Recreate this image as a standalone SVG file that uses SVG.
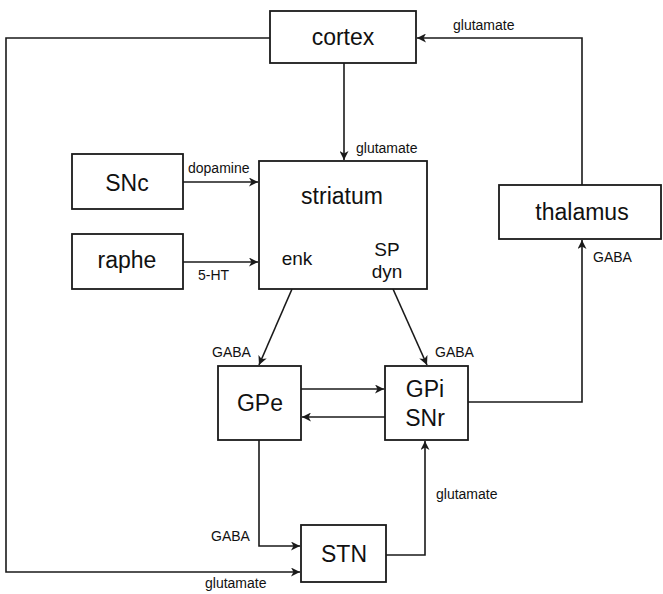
<svg xmlns="http://www.w3.org/2000/svg" width="663" height="594" viewBox="0 0 663 594">
<style>
.box{fill:#fff;stroke:#1a1a1a;stroke-width:1.8}
.n{font-family:"Liberation Sans",Arial,sans-serif;font-size:23px;fill:#111;text-anchor:middle}
.s{font-family:"Liberation Sans",Arial,sans-serif;font-size:19px;fill:#111;text-anchor:middle}
.l{font-family:"Liberation Sans",Arial,sans-serif;font-size:14px;fill:#111}
.c{fill:none;stroke:#1a1a1a;stroke-width:1.6}
</style>
<defs>
<marker id="a" markerUnits="userSpaceOnUse" markerWidth="10" markerHeight="9" refX="9" refY="4.5" orient="auto">
<path d="M0,0 L9,4.5 L0,9 L2.5,4.5 z" fill="#1a1a1a"/>
</marker>
</defs>
<g id="connectors">
<polyline class="c" points="270,38 6,38 6,572 300,572" marker-end="url(#a)"/>
<polyline class="c" points="582,185 582,38 417,38" marker-end="url(#a)"/>
<line class="c" x1="344" y1="63" x2="344" y2="160" marker-end="url(#a)"/>
<line class="c" x1="183" y1="182" x2="258" y2="182" marker-end="url(#a)"/>
<line class="c" x1="183" y1="262" x2="258" y2="262" marker-end="url(#a)"/>
<line class="c" x1="292" y1="289" x2="259" y2="365" marker-end="url(#a)"/>
<line class="c" x1="393" y1="289" x2="427" y2="365" marker-end="url(#a)"/>
<line class="c" x1="301" y1="389" x2="384" y2="389" marker-end="url(#a)"/>
<line class="c" x1="385" y1="417" x2="302" y2="417" marker-end="url(#a)"/>
<polyline class="c" points="468,402 582,402 582,240" marker-end="url(#a)"/>
<polyline class="c" points="259,440 259,546 300,546" marker-end="url(#a)"/>
<polyline class="c" points="386,555 425,555 425,441" marker-end="url(#a)"/>
</g>
<g id="labels">
<text class="l" x="453" y="30">glutamate</text>
<text class="l" x="356" y="153">glutamate</text>
<text class="l" x="188" y="173">dopamine</text>
<text class="l" x="198" y="280">5-HT</text>
<text class="l" x="212" y="357">GABA</text>
<text class="l" x="435" y="357">GABA</text>
<text class="l" x="593" y="262">GABA</text>
<text class="l" x="211" y="541">GABA</text>
<text class="l" x="436" y="499">glutamate</text>
<text class="l" x="205" y="588">glutamate</text>
</g>
<g id="cortex">
<rect class="box" x="270" y="11" width="146" height="52"/>
<text class="n" x="343" y="45">cortex</text>
</g>
<g id="thalamus">
<rect class="box" x="499" y="185" width="162" height="54"/>
<text class="n" x="582" y="220">thalamus</text>
</g>
<g id="SNc">
<rect class="box" x="72" y="154" width="111" height="55"/>
<text class="n" x="127" y="191">SNc</text>
</g>
<g id="raphe">
<rect class="box" x="72" y="234" width="111" height="55"/>
<text class="n" x="127" y="268">raphe</text>
</g>
<g id="striatum">
<rect class="box" x="259" y="161" width="168" height="128"/>
<text class="n" x="342" y="204">striatum</text>
<text class="s" x="297" y="265">enk</text>
<text class="s" x="387" y="256">SP</text>
<text class="s" x="387" y="278">dyn</text>
</g>
<g id="GPe">
<rect class="box" x="218" y="366" width="83" height="74"/>
<text class="n" x="260" y="411">GPe</text>
</g>
<g id="GPi">
<rect class="box" x="385" y="366" width="83" height="74"/>
<text class="n" x="425" y="397">GPi</text>
<text class="n" x="425" y="426">SNr</text>
</g>
<g id="STN">
<rect class="box" x="301" y="525" width="85" height="57"/>
<text class="n" x="344" y="562">STN</text>
</g>
</svg>
